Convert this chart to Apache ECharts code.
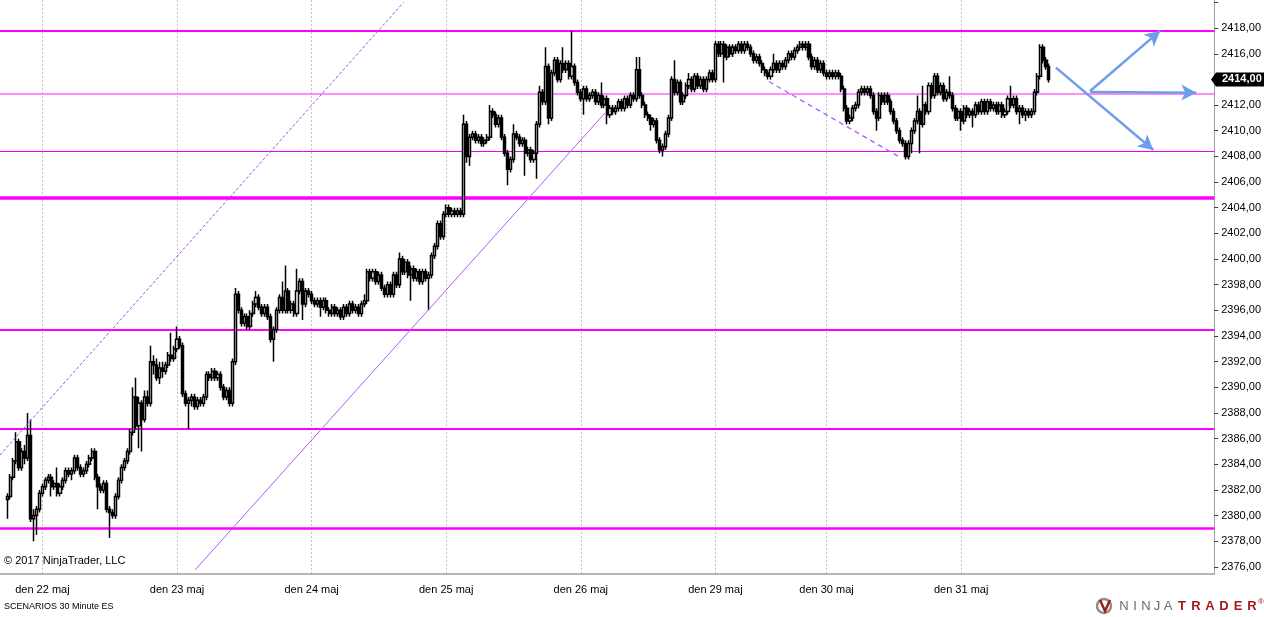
<!DOCTYPE html>
<html>
<head>
<meta charset="utf-8">
<title>SCENARIOS 30 Minute ES</title>
<script src="https://cdn.jsdelivr.net/npm/echarts@6/dist/echarts.min.js"></script>
<style>
  html, body { margin: 0; padding: 0; background: #fff; }
  #chart { width: 1264px; height: 617px; }
</style>
</head>
<body>
<div id="chart"></div>
<script>
// ES 30 minute bars, one array per session: [open, close, low, high]
var sun21 = [
  [2381.25, 2381.5, 2379.75, 2381.75], [2381.5, 2383.0, 2381.25, 2383.25], [2383.0, 2384.25, 2382.75, 2384.5],
  [2384.25, 2385.75, 2384.0, 2386.5], [2385.75, 2383.75, 2383.5, 2386.0], [2383.75, 2385.0, 2383.5, 2385.25],
  [2385.0, 2384.5, 2384.0, 2385.5], [2384.5, 2386.25, 2384.25, 2388.0], [2386.25, 2379.75, 2379.5, 2387.5],
  [2379.75, 2380.0, 2378.0, 2380.5], [2380.0, 2380.5, 2378.5, 2380.75], [2380.5, 2381.75, 2380.25, 2382.0]
];
var may22 = [
  [2381.75, 2382.25, 2381.5, 2382.5], [2382.25, 2382.75, 2382.0, 2383.0], [2382.75, 2383.0, 2382.5, 2383.25],
  [2383.0, 2382.25, 2381.5, 2383.25], [2382.25, 2382.5, 2382.0, 2382.75], [2382.5, 2381.75, 2381.5, 2383.75],
  [2381.75, 2382.25, 2381.5, 2382.5], [2382.25, 2382.75, 2382.0, 2383.0], [2382.75, 2383.5, 2382.5, 2383.75],
  [2383.5, 2383.25, 2383.0, 2383.75], [2383.25, 2383.5, 2382.75, 2383.75], [2383.5, 2384.5, 2383.25, 2384.75],
  [2384.5, 2383.75, 2383.5, 2384.75], [2383.75, 2383.25, 2383.0, 2384.0], [2383.25, 2383.5, 2383.0, 2383.75],
  [2383.5, 2384.0, 2383.25, 2384.25], [2384.0, 2384.5, 2383.75, 2384.75], [2384.5, 2385.0, 2384.25, 2385.25],
  [2385.0, 2383.0, 2382.75, 2385.25], [2383.0, 2382.25, 2380.5, 2383.25], [2382.25, 2382.0, 2381.75, 2382.5],
  [2382.0, 2382.5, 2381.75, 2382.75], [2382.5, 2380.5, 2380.25, 2382.75], [2380.5, 2380.25, 2378.25, 2380.75],
  [2380.25, 2380.0, 2379.75, 2380.5], [2380.0, 2381.5, 2379.75, 2381.75], [2381.5, 2382.75, 2381.25, 2383.0],
  [2382.75, 2383.75, 2382.5, 2384.0], [2383.75, 2384.25, 2383.5, 2384.5], [2384.25, 2385.0, 2384.0, 2385.25],
  [2385.0, 2386.5, 2384.75, 2386.75], [2386.5, 2389.25, 2386.25, 2390.0], [2389.25, 2387.0, 2386.75, 2390.75],
  [2387.0, 2388.75, 2385.25, 2389.25], [2388.75, 2387.5, 2385.0, 2389.0], [2387.5, 2389.25, 2387.25, 2389.75],
  [2389.25, 2388.75, 2388.5, 2389.75], [2388.75, 2392.0, 2388.5, 2393.25], [2392.0, 2391.75, 2391.0, 2392.5],
  [2391.75, 2390.75, 2390.5, 2392.25], [2390.75, 2391.5, 2390.25, 2392.0], [2391.5, 2391.25, 2390.75, 2392.0],
  [2391.25, 2391.75, 2391.0, 2392.0], [2391.75, 2392.5, 2391.5, 2392.75], [2392.5, 2392.25, 2392.0, 2394.25],
  [2392.25, 2393.0, 2392.0, 2393.25]
];
var may23 = [
  [2393.0, 2393.75, 2392.75, 2394.75], [2393.75, 2393.25, 2393.0, 2394.0], [2393.25, 2389.5, 2389.25, 2393.5],
  [2389.5, 2388.75, 2388.5, 2389.75], [2388.75, 2389.0, 2386.75, 2389.25], [2389.0, 2389.25, 2388.5, 2389.5],
  [2389.25, 2388.5, 2388.25, 2389.5], [2388.5, 2389.0, 2388.25, 2389.25], [2389.0, 2388.75, 2388.5, 2389.25],
  [2388.75, 2389.25, 2388.5, 2389.5], [2389.25, 2391.0, 2389.0, 2391.25], [2391.0, 2390.75, 2390.5, 2391.25],
  [2390.75, 2391.25, 2390.5, 2391.5], [2391.25, 2390.75, 2390.5, 2391.5], [2390.75, 2391.0, 2390.5, 2391.25],
  [2391.0, 2390.0, 2389.75, 2391.25], [2390.0, 2389.25, 2389.0, 2390.25], [2389.25, 2389.75, 2389.0, 2390.0],
  [2389.75, 2388.75, 2388.5, 2390.0], [2388.75, 2392.0, 2388.5, 2392.25], [2392.0, 2397.25, 2391.75, 2397.75],
  [2397.25, 2396.0, 2395.75, 2397.5], [2396.0, 2395.0, 2394.75, 2396.25], [2395.0, 2395.5, 2394.75, 2395.75],
  [2395.5, 2394.75, 2394.5, 2395.75], [2394.75, 2395.75, 2394.5, 2396.0], [2395.75, 2396.5, 2395.5, 2396.75],
  [2396.5, 2397.0, 2396.25, 2397.5], [2397.0, 2396.25, 2396.0, 2397.25], [2396.25, 2395.75, 2395.5, 2396.5],
  [2395.75, 2396.25, 2395.5, 2396.5], [2396.25, 2395.5, 2395.25, 2396.5], [2395.5, 2393.75, 2393.5, 2395.75],
  [2393.75, 2394.5, 2392.0, 2394.75], [2394.5, 2396.0, 2394.25, 2396.25], [2396.0, 2397.0, 2395.75, 2397.25],
  [2397.0, 2396.0, 2395.75, 2398.25], [2396.0, 2397.5, 2395.75, 2399.5], [2397.5, 2396.0, 2395.75, 2397.75],
  [2396.0, 2396.5, 2395.75, 2396.75], [2396.5, 2395.75, 2395.5, 2396.75], [2395.75, 2397.5, 2395.5, 2399.25],
  [2397.5, 2398.25, 2397.25, 2398.5], [2398.25, 2396.5, 2395.25, 2398.5], [2396.5, 2397.5, 2396.25, 2397.75],
  [2397.5, 2397.25, 2397.0, 2397.75]
];
var may24 = [
  [2397.25, 2396.75, 2396.5, 2397.5], [2396.75, 2396.5, 2396.25, 2397.0], [2396.5, 2396.75, 2396.25, 2397.0],
  [2396.75, 2396.25, 2395.5, 2397.0], [2396.25, 2396.75, 2396.0, 2397.0], [2396.75, 2396.0, 2395.75, 2397.0],
  [2396.0, 2395.75, 2395.5, 2396.25], [2395.75, 2396.25, 2395.5, 2396.5], [2396.25, 2395.75, 2395.5, 2396.5],
  [2395.75, 2396.0, 2395.5, 2396.25], [2396.0, 2395.5, 2395.25, 2396.25], [2395.5, 2396.25, 2395.25, 2396.5],
  [2396.25, 2395.75, 2395.5, 2396.5], [2395.75, 2396.5, 2395.5, 2396.75], [2396.5, 2396.0, 2395.75, 2396.75],
  [2396.0, 2396.25, 2395.75, 2396.5], [2396.25, 2395.75, 2395.5, 2396.5], [2395.75, 2396.5, 2395.5, 2396.75],
  [2396.5, 2396.75, 2396.25, 2397.25], [2396.75, 2399.0, 2396.5, 2399.25], [2399.0, 2398.5, 2398.25, 2399.25],
  [2398.5, 2399.0, 2398.25, 2399.25], [2399.0, 2398.25, 2398.0, 2399.25], [2398.25, 2398.75, 2398.0, 2399.0],
  [2398.75, 2397.75, 2397.5, 2399.0], [2397.75, 2397.25, 2397.0, 2398.0], [2397.25, 2398.0, 2397.0, 2398.25],
  [2398.0, 2397.25, 2397.0, 2398.25], [2397.25, 2398.75, 2397.0, 2399.0], [2398.75, 2398.0, 2397.75, 2399.0],
  [2398.0, 2400.0, 2397.75, 2400.5], [2400.0, 2399.0, 2398.75, 2400.25], [2399.0, 2399.75, 2398.75, 2400.0],
  [2399.75, 2398.75, 2398.5, 2400.0], [2398.75, 2399.25, 2396.75, 2399.5], [2399.25, 2398.5, 2398.25, 2399.5],
  [2398.5, 2399.0, 2398.25, 2399.25], [2399.0, 2398.25, 2398.0, 2399.25], [2398.25, 2399.0, 2398.0, 2399.25],
  [2399.0, 2398.5, 2398.25, 2399.25], [2398.5, 2398.75, 2396.0, 2399.0], [2398.75, 2400.25, 2398.5, 2400.5],
  [2400.25, 2401.0, 2400.0, 2401.25], [2401.0, 2402.75, 2400.75, 2403.0], [2402.75, 2401.75, 2401.5, 2403.0],
  [2401.75, 2403.5, 2401.5, 2403.75]
];
var may25 = [
  [2403.5, 2404.0, 2403.25, 2404.25], [2404.0, 2403.5, 2403.25, 2404.25], [2403.5, 2403.75, 2403.25, 2404.0],
  [2403.75, 2403.5, 2403.25, 2404.0], [2403.5, 2403.75, 2403.25, 2404.0], [2403.75, 2403.5, 2403.25, 2404.0],
  [2403.5, 2410.5, 2403.25, 2411.25], [2410.5, 2408.0, 2407.5, 2410.75], [2408.0, 2409.5, 2407.25, 2409.75],
  [2409.5, 2409.75, 2409.25, 2410.0], [2409.75, 2409.25, 2409.0, 2410.0], [2409.25, 2409.5, 2409.0, 2409.75],
  [2409.5, 2409.0, 2408.75, 2409.75], [2409.0, 2409.25, 2408.75, 2409.5], [2409.25, 2409.5, 2409.0, 2409.75],
  [2409.5, 2411.5, 2409.25, 2412.0], [2411.5, 2411.25, 2411.0, 2411.75], [2411.25, 2410.5, 2410.25, 2411.5],
  [2410.5, 2411.0, 2410.25, 2411.25], [2411.0, 2409.5, 2409.25, 2411.25], [2409.5, 2408.25, 2408.0, 2409.75],
  [2408.25, 2407.0, 2405.75, 2408.5], [2407.0, 2407.75, 2406.75, 2408.0], [2407.75, 2409.75, 2407.5, 2410.5],
  [2409.75, 2409.5, 2409.25, 2410.0], [2409.5, 2409.0, 2408.75, 2409.75], [2409.0, 2409.25, 2408.75, 2409.5],
  [2409.25, 2408.25, 2406.5, 2409.5], [2408.25, 2408.5, 2408.0, 2408.75], [2408.5, 2407.75, 2407.5, 2408.75],
  [2407.75, 2408.25, 2407.5, 2408.5], [2408.25, 2410.5, 2406.25, 2410.75], [2410.5, 2413.0, 2410.25, 2413.5],
  [2413.0, 2412.25, 2412.0, 2413.25], [2412.25, 2415.0, 2412.0, 2416.5], [2415.0, 2411.0, 2410.5, 2415.25],
  [2411.0, 2414.5, 2410.75, 2414.75], [2414.5, 2415.5, 2414.25, 2415.75], [2415.5, 2414.0, 2413.75, 2415.75],
  [2414.0, 2415.25, 2413.75, 2415.5], [2415.25, 2414.75, 2414.5, 2416.5], [2414.75, 2415.25, 2414.5, 2415.5],
  [2415.25, 2414.25, 2414.0, 2415.5], [2414.25, 2415.0, 2414.0, 2417.75], [2415.0, 2413.75, 2413.5, 2415.25],
  [2413.75, 2413.0, 2412.75, 2414.0]
];
var may26 = [
  [2413.0, 2412.5, 2412.25, 2413.25], [2412.5, 2413.25, 2411.25, 2413.5], [2413.25, 2412.5, 2412.25, 2413.5],
  [2412.5, 2412.75, 2412.25, 2413.0], [2412.75, 2413.0, 2412.5, 2413.25], [2413.0, 2412.25, 2412.0, 2413.25],
  [2412.25, 2412.75, 2412.0, 2413.0], [2412.75, 2412.0, 2411.75, 2413.75], [2412.0, 2412.5, 2411.75, 2412.75],
  [2412.5, 2411.25, 2410.5, 2412.75], [2411.25, 2411.75, 2411.0, 2412.0], [2411.75, 2411.5, 2411.25, 2412.0],
  [2411.5, 2411.75, 2411.25, 2412.0], [2411.75, 2412.25, 2411.5, 2412.5], [2412.25, 2411.75, 2411.5, 2412.5],
  [2411.75, 2412.5, 2411.5, 2412.75], [2412.5, 2412.0, 2411.75, 2412.75], [2412.0, 2412.75, 2411.75, 2413.0],
  [2412.75, 2412.5, 2412.25, 2413.0], [2412.5, 2414.75, 2412.25, 2415.75], [2414.75, 2412.75, 2412.5, 2415.75],
  [2412.75, 2412.0, 2411.75, 2413.0], [2412.0, 2411.25, 2411.0, 2412.25], [2411.25, 2411.0, 2410.75, 2411.5],
  [2411.0, 2410.5, 2410.0, 2411.25], [2410.5, 2410.75, 2410.25, 2411.0], [2410.75, 2409.25, 2409.0, 2411.0],
  [2409.25, 2408.5, 2408.25, 2409.5], [2408.5, 2408.75, 2408.0, 2409.0], [2408.75, 2409.75, 2408.5, 2410.0],
  [2409.75, 2411.0, 2409.5, 2411.25], [2411.0, 2414.0, 2410.75, 2414.25], [2414.0, 2413.0, 2412.75, 2415.5],
  [2413.0, 2413.75, 2412.75, 2414.0], [2413.75, 2412.25, 2412.0, 2414.0], [2412.25, 2412.75, 2412.0, 2413.0],
  [2412.75, 2413.5, 2412.5, 2413.75], [2413.5, 2414.0, 2413.25, 2414.5], [2414.0, 2413.25, 2413.0, 2414.25],
  [2413.25, 2414.25, 2413.0, 2414.5], [2414.25, 2413.5, 2413.25, 2414.5], [2413.5, 2414.0, 2413.25, 2414.25],
  [2414.0, 2413.25, 2413.0, 2414.25], [2413.25, 2414.0, 2413.0, 2414.25], [2414.0, 2414.5, 2413.75, 2414.75],
  [2414.5, 2414.0, 2413.75, 2414.75]
];
var may29 = [
  [2414.0, 2416.75, 2413.75, 2417.0], [2416.75, 2416.0, 2415.75, 2417.0], [2416.0, 2416.75, 2415.75, 2417.0],
  [2416.75, 2415.75, 2413.75, 2417.0], [2415.75, 2416.5, 2415.5, 2416.75], [2416.5, 2416.0, 2415.75, 2416.75],
  [2416.0, 2416.5, 2415.75, 2416.75], [2416.5, 2416.25, 2416.0, 2416.75], [2416.25, 2416.75, 2416.0, 2417.0],
  [2416.75, 2416.25, 2416.0, 2417.0], [2416.25, 2416.75, 2416.0, 2417.0], [2416.75, 2416.5, 2416.25, 2417.0],
  [2416.5, 2416.0, 2415.75, 2416.75], [2416.0, 2415.5, 2415.25, 2416.25], [2415.5, 2415.75, 2415.25, 2416.0],
  [2415.75, 2415.25, 2415.0, 2416.0], [2415.25, 2414.75, 2414.5, 2415.5], [2414.75, 2414.5, 2414.25, 2415.0],
  [2414.5, 2414.25, 2414.0, 2414.75], [2414.25, 2414.75, 2414.0, 2415.0], [2414.75, 2415.25, 2414.5, 2416.0],
  [2415.25, 2414.75, 2414.5, 2415.5], [2414.75, 2415.25, 2414.5, 2415.5], [2415.25, 2415.0, 2414.75, 2415.5],
  [2415.0, 2415.5, 2414.75, 2415.75], [2415.5, 2416.0, 2415.25, 2416.25], [2416.0, 2415.75, 2415.5, 2416.25],
  [2415.75, 2416.25, 2415.5, 2416.5], [2416.25, 2416.5, 2416.0, 2416.75], [2416.5, 2416.75, 2416.25, 2417.0],
  [2416.75, 2416.5, 2416.25, 2417.0], [2416.5, 2416.75, 2416.25, 2417.0], [2416.75, 2415.75, 2415.5, 2417.0],
  [2415.75, 2415.0, 2414.75, 2416.0], [2415.0, 2415.5, 2414.75, 2415.75], [2415.5, 2414.75, 2414.5, 2415.75],
  [2414.75, 2415.25, 2414.5, 2415.5], [2415.25, 2414.5, 2414.25, 2415.5]
];
var may30 = [
  [2414.5, 2414.25, 2414.0, 2414.75], [2414.25, 2414.5, 2414.0, 2414.75], [2414.5, 2414.25, 2414.0, 2414.75],
  [2414.25, 2414.5, 2414.0, 2414.75], [2414.5, 2414.25, 2414.0, 2414.75], [2414.25, 2413.25, 2413.0, 2414.5],
  [2413.25, 2411.75, 2411.5, 2413.5], [2411.75, 2410.75, 2410.5, 2412.0], [2410.75, 2411.0, 2410.5, 2411.25],
  [2411.0, 2411.75, 2410.75, 2412.0], [2411.75, 2412.0, 2411.5, 2412.25], [2412.0, 2413.0, 2411.75, 2413.25],
  [2413.0, 2413.25, 2412.75, 2413.5], [2413.25, 2413.0, 2412.75, 2413.5], [2413.0, 2413.25, 2412.75, 2413.5],
  [2413.25, 2412.75, 2412.5, 2413.5], [2412.75, 2411.5, 2411.25, 2413.0], [2411.5, 2411.0, 2410.0, 2411.75],
  [2411.0, 2412.75, 2410.75, 2413.0], [2412.75, 2412.25, 2412.0, 2413.0], [2412.25, 2412.75, 2412.0, 2413.0],
  [2412.75, 2412.25, 2412.0, 2413.0], [2412.25, 2411.5, 2411.25, 2412.5], [2411.5, 2410.75, 2410.5, 2411.75],
  [2410.75, 2410.0, 2409.75, 2411.0], [2410.0, 2409.25, 2409.0, 2410.25], [2409.25, 2409.0, 2408.75, 2409.5],
  [2409.0, 2408.0, 2407.75, 2409.25], [2408.0, 2409.0, 2407.75, 2409.25], [2409.0, 2410.0, 2408.25, 2410.25],
  [2410.0, 2410.75, 2409.75, 2411.0], [2410.75, 2411.5, 2410.5, 2412.75], [2411.5, 2410.5, 2408.25, 2411.75],
  [2410.5, 2412.0, 2410.25, 2413.5], [2412.0, 2411.5, 2411.25, 2412.25], [2411.5, 2413.5, 2411.25, 2413.75],
  [2413.5, 2412.75, 2412.5, 2413.75], [2412.75, 2414.25, 2412.5, 2414.5], [2414.25, 2413.0, 2412.75, 2414.5],
  [2413.0, 2413.5, 2412.75, 2413.75], [2413.5, 2412.5, 2412.25, 2413.75], [2412.5, 2413.0, 2412.25, 2413.25],
  [2413.0, 2412.75, 2412.5, 2414.25], [2412.75, 2411.75, 2411.5, 2413.0], [2411.75, 2411.0, 2410.75, 2412.0],
  [2411.0, 2411.5, 2410.75, 2411.75]
];
var may31 = [
  [2411.5, 2410.75, 2410.0, 2411.75], [2410.75, 2411.75, 2410.5, 2412.0], [2411.75, 2411.25, 2411.0, 2412.0],
  [2411.25, 2411.5, 2411.0, 2411.75], [2411.5, 2411.25, 2410.25, 2411.75], [2411.25, 2412.0, 2411.0, 2412.25],
  [2412.0, 2411.5, 2411.25, 2412.25], [2411.5, 2412.25, 2411.25, 2412.5], [2412.25, 2411.5, 2411.25, 2412.5],
  [2411.5, 2412.25, 2411.25, 2412.5], [2412.25, 2411.75, 2411.5, 2412.5], [2411.75, 2412.0, 2411.5, 2412.25],
  [2412.0, 2411.5, 2411.25, 2412.25], [2411.5, 2412.0, 2411.25, 2412.25], [2412.0, 2411.25, 2411.0, 2412.25],
  [2411.25, 2411.5, 2411.0, 2411.75], [2411.5, 2412.5, 2411.25, 2412.75], [2412.5, 2412.0, 2411.75, 2413.5],
  [2412.0, 2412.5, 2411.75, 2412.75], [2412.5, 2411.5, 2411.25, 2412.75], [2411.5, 2411.75, 2410.5, 2412.0],
  [2411.75, 2411.25, 2411.0, 2412.0], [2411.25, 2411.5, 2410.75, 2411.75], [2411.5, 2411.25, 2411.0, 2411.75],
  [2411.25, 2411.5, 2411.0, 2411.75], [2411.5, 2413.0, 2411.25, 2413.25], [2413.0, 2414.25, 2412.75, 2414.5],
  [2414.25, 2416.5, 2414.0, 2416.75], [2416.5, 2415.5, 2415.25, 2416.75], [2415.5, 2415.0, 2414.75, 2415.75],
  [2415.0, 2414.0, 2413.75, 2415.25]
];

var dayLabels = ['den 22 maj', 'den 23 maj', 'den 24 maj', 'den 25 maj', 'den 26 maj', 'den 29 maj', 'den 30 maj', 'den 31 maj'];
var lastPrice = 2414.00;

// horizontal price levels drawn on the chart
var levels = [2417.8, 2412.9, 2408.42, 2404.75, 2394.5, 2386.75, 2379.0];
// trend lines, in bar slots and price: [fromSlot, fromPrice, toSlot, toPrice]
var trendLines = [
  [-0.5, 2384.73, 137.4, 2420.0],
  [66.2, 2375.77, 206.3, 2411.39],
  [262.3, 2413.83, 306.7, 2407.98]
];
// scenario arrows to the right of the last bar
var scenarioArrows = [
  [360.4, 2414.92, 393.7, 2408.5],
  [372.1, 2413.1, 396.0, 2417.78],
  [372.1, 2413.02, 408.4, 2412.97]
];

var LEAD = 2;      // empty slots before the first bar
var SLOTS = 415;   // bar slots across the plot

var levelStyles = [
  { color: '#ff00ff', width: 2, type: 'solid' },
  { color: '#ff8cff', width: 2, type: 'solid' },
  { color: '#f000f0', width: 1, type: 'solid' },
  { color: '#ff00ff', width: 3.5, type: 'solid' },
  { color: '#ff00ff', width: 2, type: 'solid' },
  { color: '#ff00ff', width: 2, type: 'solid' },
  { color: '#ff00ff', width: 2.5, type: 'solid' }
];
var trendStyles = [
  { color: '#a64cf2', width: 1, type: [3, 2] },
  { color: '#b35cf5', width: 1, type: 'solid' },
  { color: '#b35cf5', width: 1.2, type: [5, 4] }
];

var sessions = [sun21, may22, may23, may24, may25, may26, may29, may30, may31];
var candles = [];
var dayStart = {};
var slot = LEAD;
sessions.forEach(function (day, d) {
  if (d > 0) dayStart[slot] = dayLabels[d - 1];
  day.forEach(function (b) {
    candles.push([slot, b[0], b[1], b[2], b[3]]);
    slot++;
  });
});
var cats = [];
for (var i = 0; i < SLOTS; i++) cats.push(String(i));
function isDayStart(idx) { return dayStart[idx] !== undefined; }

function fmt(v) { return v.toFixed(2).replace('.', ','); }

var FONT = 'Liberation Sans';
var chartDom = document.getElementById('chart');
var myChart = echarts.init(chartDom);
var option;

option = {
  animation: false,
  backgroundColor: '#ffffff',
  grid: { left: 0, right: 48, top: 0, bottom: 43 },
  xAxis: [
    {
      type: 'category',
      data: cats,
      boundaryGap: true,
      axisLine: { onZero: false, lineStyle: { color: '#a0a0a0', width: 1.5 } },
      axisTick: { alignWithLabel: true, interval: isDayStart, length: 4, lineStyle: { color: '#404040' } },
      axisLabel: {
        interval: isDayStart,
        formatter: function (v, idx) { return dayStart[idx] || ''; },
        margin: 10, color: '#000', fontSize: 11, fontFamily: FONT
      },
      splitLine: { show: true, alignWithLabel: true, interval: isDayStart, lineStyle: { color: '#c4c4c4', type: [2, 2] } }
    },
    {
      type: 'value', show: false, min: -0.5, max: SLOTS - 0.5,
      axisLine: { onZero: false }
    }
  ],
  yAxis: {
    type: 'value',
    position: 'right',
    min: 2375.45,
    max: 2420.19,
    splitNumber: 22,
    axisLine: { show: true, onZero: false, lineStyle: { color: '#a0a0a0' } },
    axisTick: { show: true, length: 4, lineStyle: { color: '#404040' } },
    axisLabel: {
      showMinLabel: false, showMaxLabel: false,
      margin: 7, color: '#000', fontSize: 11, fontFamily: FONT,
      formatter: function (v) { return v > 2419 ? '' : fmt(v); }
    },
    splitLine: { show: false }
  },
  series: [
    {
      type: 'candlestick',
      data: candles,
      encode: { x: 0, y: [1, 2, 3, 4] },
      barWidth: 2.6,
      silent: true,
      itemStyle: { color: '#ffffff', color0: '#000000', borderColor: '#000000', borderColor0: '#000000', borderWidth: 1.5 },
      markLine: {
        silent: true, z: 1, symbol: ['none', 'none'], label: { show: false },
        data: levels.map(function (v, k) { return { yAxis: v, lineStyle: levelStyles[k] }; })
      }
    },
    {
      type: 'line', xAxisIndex: 1, yAxisIndex: 0, data: [], silent: true,
      markLine: {
        silent: true, z: 3, symbol: ['none', 'none'], label: { show: false },
        data: trendLines.map(function (t, k) {
          return [{ coord: [t[0], t[1]], lineStyle: trendStyles[k] }, { coord: [t[2], t[3]] }];
        })
      }
    },
    {
      type: 'line', xAxisIndex: 1, yAxisIndex: 0, data: [], silent: true,
      markLine: {
        silent: true, z: 4, symbol: ['none', 'arrow'], symbolSize: [12, 15], label: { show: false },
        lineStyle: { color: '#6d9eeb', width: 2.5, type: 'solid' },
        data: scenarioArrows.map(function (a) {
          return [{ coord: [a[0], a[1]] }, { coord: [a[2], a[3]] }];
        })
      }
    }
  ]
};

option && myChart.setOption(option);

// price badge and footer texts
var yb = myChart.convertToPixel({ yAxisIndex: 0 }, lastPrice);
var axisX = 1216;
var graphics = [
  {
    type: 'polygon', z: 50,
    shape: { points: [[axisX - 5, yb], [axisX, yb - 7], [1264, yb - 7], [1264, yb + 7], [axisX, yb + 7]] },
    style: { fill: '#000' }
  },
  {
    type: 'text', z: 51, left: axisX + 6, top: yb - 6,
    style: { text: fmt(lastPrice), fill: '#fff', font: 'bold 11px ' + FONT, textVerticalAlign: 'top' }
  },
  {
    type: 'text', left: 4, top: 555,
    style: { text: '\u00a9 2017 NinjaTrader, LLC', fill: '#000', font: '11px ' + FONT }
  },
  {
    type: 'text', left: 4, top: 602,
    style: { text: 'SCENARIOS 30 Minute ES', fill: '#000', font: '9px ' + FONT }
  },
  {
    type: 'circle', shape: { cx: 1104, cy: 606, r: 7 },
    style: { fill: 'none', stroke: '#8e8e8e', lineWidth: 2.5 }
  },
  {
    type: 'polyline', shape: { points: [[1100, 600], [1105, 611], [1110, 600]] },
    style: { fill: 'none', stroke: '#a11d1d', lineWidth: 2.5 }
  }
];
var logoLetters = 'NINJATRADER'.split('');
logoLetters.forEach(function (ch, k) {
  var isNinja = k < 5;
  var cx = isNinja ? 1124 + k * 11 : 1182 + (k - 5) * 14;
  graphics.push({
    type: 'text', x: cx, y: 606,
    style: {
      text: ch, fill: isNinja ? '#6a6a6a' : '#a11d1d',
      font: (isNinja ? '' : 'bold ') + '13px ' + FONT,
      textAlign: 'center', textVerticalAlign: 'middle'
    }
  });
});
graphics.push({
  type: 'text', x: 1261, y: 602,
  style: { text: '\u00ae', fill: '#a11d1d', font: '8px ' + FONT, textAlign: 'center', textVerticalAlign: 'middle' }
});
myChart.setOption({ graphic: graphics });
</script>
</body>
</html>
